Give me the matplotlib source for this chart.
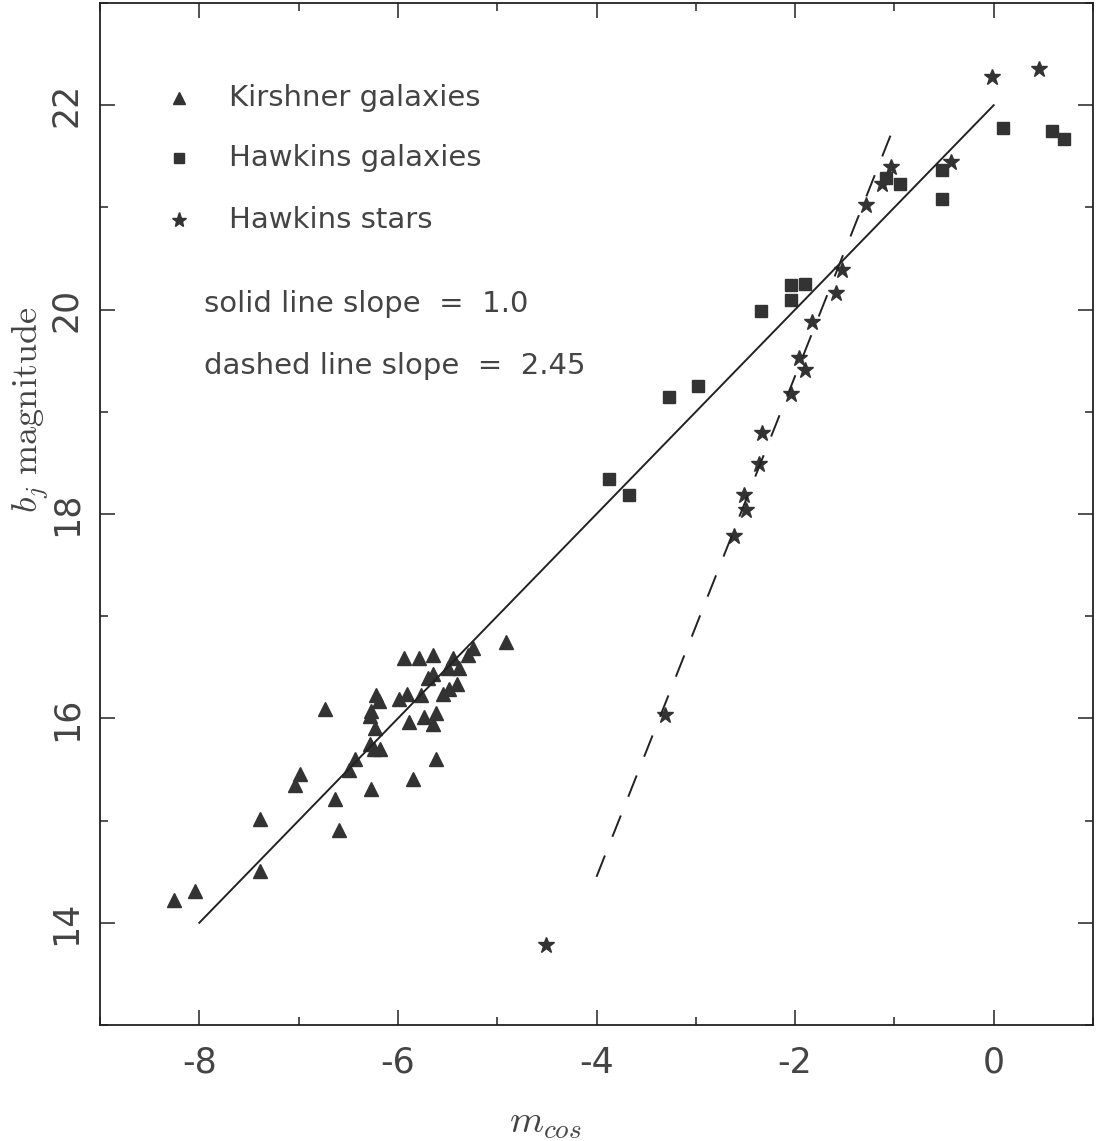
import matplotlib
matplotlib.use("Agg")
import matplotlib.pyplot as plt
from matplotlib.ticker import MultipleLocator, FuncFormatter

plt.rcParams["mathtext.fontset"] = "cm"
plt.rcParams["lines.scale_dashes"] = False
plt.rcParams["font.family"] = ["DejaVu Sans"]

# Kirshner galaxies (m_cos, b_j)
kir_x = [-8.25, -8.04, -7.39, -7.39, -7.04, -6.99, -6.73, -6.63, -6.59, -6.49,
         -6.43, -6.27, -6.28, -6.24, -6.18, -6.23, -6.28, -6.27, -6.22, -6.19,
         -5.99, -5.91, -5.94, -5.79, -5.65, -5.89, -5.74, -5.65, -5.62, -5.77,
         -5.85, -5.62, -5.70, -5.65, -5.55, -5.49, -5.40, -5.50, -5.38, -5.45,
         -5.29, -5.24, -4.91]
kir_y = [14.22, 14.31, 14.51, 15.02, 15.35, 15.46, 16.09, 15.21, 14.91, 15.50,
         15.60, 15.31, 15.75, 15.70, 15.70, 15.91, 16.02, 16.07, 16.23, 16.17,
         16.19, 16.24, 16.59, 16.59, 16.62, 15.96, 16.01, 15.95, 16.05, 16.23,
         15.41, 15.60, 16.40, 16.43, 16.24, 16.29, 16.34, 16.49, 16.49, 16.59,
         16.62, 16.69, 16.75]

# Hawkins galaxies
hg_x = [-3.87, -3.67, -3.27, -2.98, -2.34, -2.04, -2.04, -1.90, -1.08, -0.94,
        -0.52, -0.52, 0.09, 0.59, 0.71]
hg_y = [18.34, 18.19, 19.14, 19.25, 19.99, 20.24, 20.09, 20.25, 21.29, 21.23,
        21.37, 21.08, 21.78, 21.75, 21.67]

# Hawkins stars
hs_x = [-4.51, -3.31, -2.62, -2.51, -2.49, -2.36, -2.33, -2.04, -1.90, -1.96,
        -1.83, -1.59, -1.53, -1.29, -1.12, -1.03, -0.43, -0.02, 0.46]
hs_y = [13.78, 16.03, 17.78, 18.19, 18.04, 18.49, 18.79, 19.17, 19.41, 19.53,
        19.88, 20.16, 20.39, 21.02, 21.23, 21.40, 21.44, 22.28, 22.35]

# Fitted relations b_j = slope * m_cos + intercept over the given range
solid_slope, solid_icpt, solid_range = 1.0, 22.0, (-8.0, 0.0)
dashed_slope, dashed_icpt, dashed_range = 2.45, 24.25, (-4.0, -1.04)

ink = "#333333"
txt = "#444444"

fig = plt.figure(figsize=(11.01, 11.41), dpi=100)
ax = fig.add_axes([100 / 1101, 116 / 1141, 993 / 1101, 1022 / 1141])

ax.plot(kir_x, kir_y, linestyle="none", marker="^", ms=10, color=ink, mec=ink)
ax.plot(hg_x, hg_y, linestyle="none", marker="s", ms=8, color=ink, mec=ink)
ax.plot(hs_x, hs_y, linestyle="none", marker="*", ms=12, color=ink, mec=ink)

xs = list(solid_range)
ax.plot(xs, [solid_slope * x + solid_icpt for x in xs], color="#222222", lw=1.4)
xd = list(dashed_range)
ax.plot(xd, [dashed_slope * x + dashed_icpt for x in xd], color="#222222", lw=1.4,
        dashes=(16.5, 14.5))

ax.set_xlim(-9, 1)
ax.set_ylim(13, 23)
ax.xaxis.set_major_locator(MultipleLocator(2))
ax.xaxis.set_minor_locator(MultipleLocator(1))
ax.yaxis.set_major_locator(MultipleLocator(2))
ax.yaxis.set_minor_locator(MultipleLocator(1))
plain = FuncFormatter(lambda v, pos: "%d" % round(v))
ax.xaxis.set_major_formatter(plain)
ax.yaxis.set_major_formatter(plain)
ax.tick_params(which="both", direction="in", top=True, right=True, color="#222222",
               width=1.1)
ax.tick_params(which="major", length=11, labelsize=25, labelcolor=txt)
ax.tick_params(which="minor", length=6)
ax.tick_params(axis="x", which="major", pad=15)
ax.tick_params(axis="y", which="major", pad=12)
for lab in ax.get_yticklabels():
    lab.set_rotation(90)
    lab.set_va("center")
for sp in ax.spines.values():
    sp.set_linewidth(1.3)
    sp.set_color("#222222")

# Legend-style annotations inside the axes
leg_font = dict(fontsize=21, color=txt, va="center")
ax.plot([-8.2], [22.07], marker="^", ms=8, color=ink, linestyle="none")
ax.text(-7.7, 22.07, "Kirshner galaxies", **leg_font)
ax.plot([-8.2], [21.48], marker="s", ms=7, color=ink, linestyle="none")
ax.text(-7.7, 21.48, "Hawkins galaxies", **leg_font)
ax.plot([-8.2], [20.88], marker="*", ms=11, color=ink, linestyle="none")
ax.text(-7.7, 20.88, "Hawkins stars", **leg_font)
ax.text(-7.95, 20.05, "solid line slope  =  1.0", **leg_font)
ax.text(-7.95, 19.45, "dashed line slope  =  2.45", **leg_font)

fig.text(545 / 1101, 1 - 1122 / 1141, r"$m_{cos}$", fontsize=28, color=txt,
         ha="center", va="center")
fig.text(30 / 1101, 1 - 410 / 1141, r"$b_j\ \mathrm{magnitude}$", fontsize=26,
         color=txt, ha="center", va="center", rotation=90)

fig.savefig("out.png", dpi=100)
